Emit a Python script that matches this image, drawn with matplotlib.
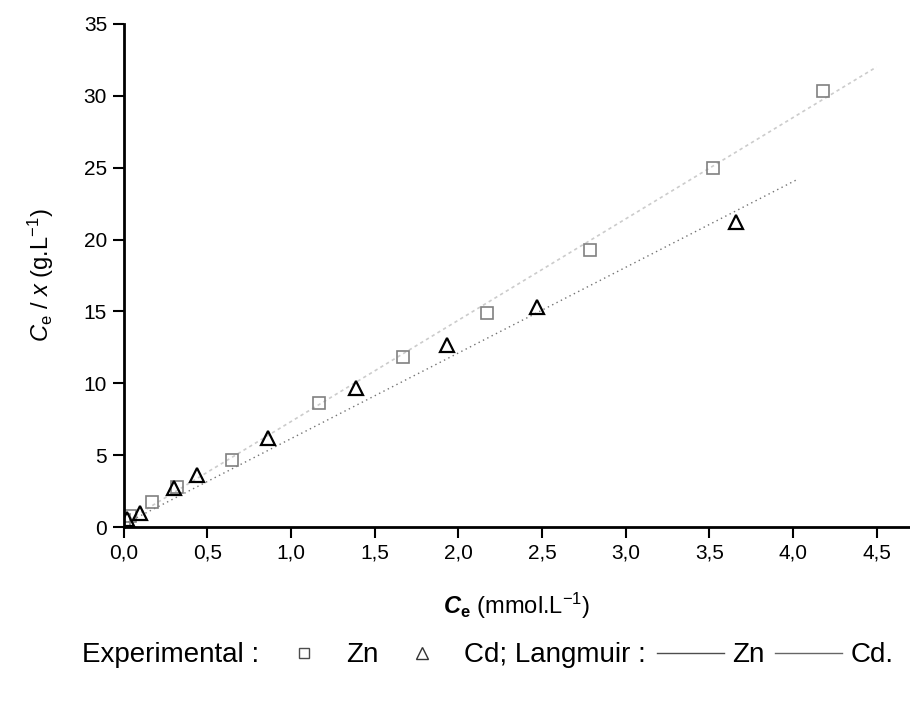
import numpy as np
import matplotlib
matplotlib.use('Agg')
import matplotlib.pyplot as plt
from matplotlib.lines import Line2D

plt.rcParams['font.family'] = ['Liberation Sans', 'DejaVu Sans']
plt.rcParams['mathtext.fontset'] = 'custom'
plt.rcParams['mathtext.rm'] = 'Liberation Sans'
plt.rcParams['mathtext.it'] = 'Liberation Sans:italic'
plt.rcParams['mathtext.bf'] = 'Liberation Sans:bold'
plt.rcParams['mathtext.bfit'] = 'Liberation Sans:italic:bold'

# experimental points
zn_ce = [0.00, 0.04, 0.17, 0.32, 0.65, 1.17, 1.67, 2.17, 2.79, 3.52, 4.18]
zn_y = [0.5, 0.8, 1.75, 2.8, 4.7, 8.6, 11.8, 14.9, 19.3, 25.0, 30.3]
cd_ce = [0.02, 0.10, 0.30, 0.44, 0.86, 1.39, 1.93, 2.47, 3.66]
cd_y = [0.6, 1.0, 2.7, 3.6, 6.2, 9.7, 12.7, 15.3, 21.2]

# Langmuir fit lines (end points)
lang_zn_ce = [0.0, 4.5]
lang_zn_y = [0.3, 32.0]
lang_cd_ce = [0.0, 4.03]
lang_cd_y = [0.2, 24.2]

xticks = [0.0, 0.5, 1.0, 1.5, 2.0, 2.5, 3.0, 3.5, 4.0, 4.5]
yticks = [0, 5, 10, 15, 20, 25, 30, 35]

fig = plt.figure(figsize=(9.1, 7.01), dpi=100)
ax = fig.add_axes([0.136, 0.248, 0.864, 0.718])

ax.plot(lang_zn_ce, lang_zn_y, color='0.8', lw=1.2, ls=(0, (2, 2)))
ax.plot(lang_cd_ce, lang_cd_y, color='0.45', lw=1.0, ls=(0, (1, 2.5)))
ax.plot(zn_ce, zn_y, ls='none', marker='s', ms=8, mfc='none', mec='0.5', mew=1.2)
ax.plot(cd_ce, cd_y, ls='none', marker='^', ms=10, mfc='none', mec='black', mew=1.6)

ax.set_xlim(0, 4.7)
ax.set_ylim(0, 35)
ax.set_xticks(xticks)
ax.set_xticklabels([('%.1f' % v).replace('.', ',') for v in xticks])
ax.set_yticks(yticks)
for side in ['top', 'right']:
    ax.spines[side].set_visible(False)
for side in ['left', 'bottom']:
    ax.spines[side].set_linewidth(2)
ax.tick_params(direction='out', length=8, width=1.5, labelsize=15, pad=4)

ax.set_xlabel(r'$\mathbfit{C}_{\mathbf{e}}$ (mmol.L$^{\mathregular{-1}}$)', fontsize=17, labelpad=20)
ax.set_ylabel(r'$\mathit{C}_{\mathrm{e}}$ / $\mathit{x}$ (g.L$^{\mathregular{-1}}$)', fontsize=17, labelpad=20)

blank = Line2D([], [], ls='none')
h_zn = Line2D([], [], ls='none', marker='s', ms=7, mfc='none', mec='0.3', mew=1)
h_cd = Line2D([], [], ls='none', marker='^', ms=8, mfc='none', mec='0.2', mew=1)
h_lzn = Line2D([], [], color='0.3', lw=1)
h_lcd = Line2D([], [], color='0.4', lw=1)
fig.legend(handles=[blank, h_zn, h_cd, h_lzn, h_lcd],
           labels=['Experimental :', 'Zn', 'Cd; Langmuir :', 'Zn', 'Cd.'],
           ncol=5, loc='center', bbox_to_anchor=(0.495, 0.065), frameon=False,
           fontsize=20, handlelength=2.4, handletextpad=0.3, columnspacing=0.4)

fig.savefig('out.png', dpi=100)
